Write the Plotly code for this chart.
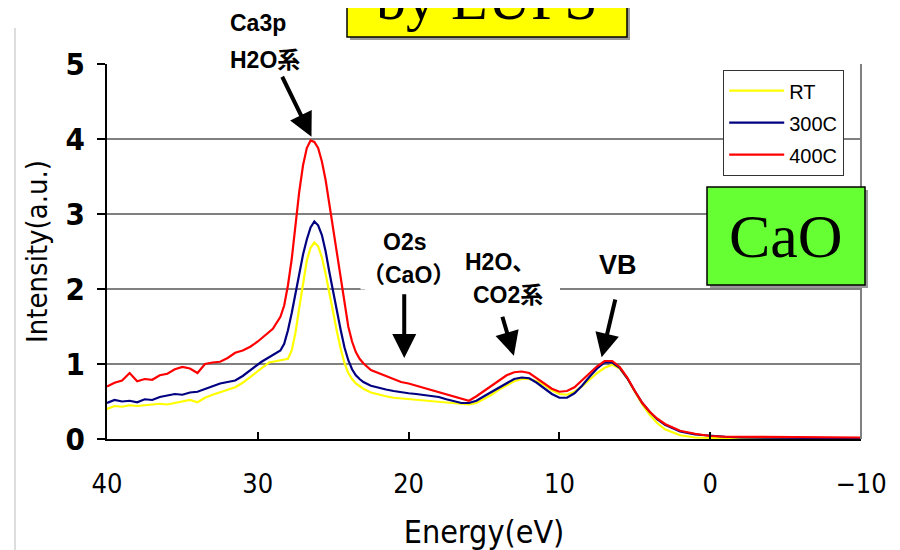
import plotly.graph_objects as go

# ---------------- data ----------------
energy = [40.0, 39.5, 39.0, 38.5, 38.0, 37.5, 37.0, 36.5, 36.0, 35.5,
          35.0, 34.5, 34.0, 33.5, 33.0, 32.5, 32.0, 31.5, 31.0, 30.5,
          30.0, 29.75, 29.5, 29.25, 29.0, 28.75, 28.5, 28.25, 28.0, 27.75,
          27.5, 27.25, 27.0, 26.75, 26.5, 26.25, 26.0, 25.75, 25.5, 25.25,
          25.0, 24.75, 24.5, 24.25, 24.0, 23.75, 23.5, 23.25, 23.0, 22.5,
          22.0, 21.5, 21.0, 20.5, 20.0, 19.5, 19.0, 18.5, 18.0, 17.5,
          17.0, 16.5, 16.0, 15.5, 15.0, 14.5, 14.0, 13.5, 13.0, 12.5,
          12.0, 11.5, 11.0, 10.5, 10.0, 9.5, 9.0, 8.5, 8.0, 7.5,
          7.0, 6.5, 6.0, 5.5, 5.0, 4.5, 4.0, 3.5, 3.0, 2.0,
          1.0, 0.0, -1.0, -2.0, -3.0, -4.0, -5.0, -6.0, -7.0, -8.0,
          -9.0, -10.0]

rt = [0.40, 0.44, 0.43, 0.45, 0.44, 0.45, 0.46, 0.47, 0.46, 0.48,
      0.50, 0.52, 0.49, 0.55, 0.59, 0.62, 0.65, 0.69, 0.75, 0.83,
      0.91, 0.95, 0.99, 1.02, 1.03, 1.04, 1.04, 1.05, 1.07, 1.18,
      1.42, 1.75, 2.10, 2.38, 2.55, 2.62, 2.57, 2.42, 2.20, 1.93,
      1.67, 1.43, 1.20, 1.01, 0.88, 0.80, 0.74, 0.70, 0.67, 0.62,
      0.59, 0.57, 0.55, 0.54, 0.53, 0.52, 0.51, 0.50, 0.49, 0.48,
      0.47, 0.46, 0.46, 0.48, 0.53, 0.59, 0.66, 0.72, 0.77, 0.80,
      0.80, 0.77, 0.72, 0.65, 0.60, 0.59, 0.63, 0.70, 0.79, 0.88,
      0.95, 0.99, 0.94, 0.81, 0.63, 0.46, 0.32, 0.21, 0.13, 0.05,
      0.02, 0.01, 0.01, 0.01, 0.01, 0.01, 0.01, 0.00, 0.01, 0.00,
      0.01, 0.00]

c300 = [0.48, 0.52, 0.50, 0.51, 0.49, 0.53, 0.52, 0.56, 0.58, 0.60,
        0.59, 0.62, 0.63, 0.67, 0.71, 0.74, 0.76, 0.78, 0.84, 0.92,
        1.00, 1.03, 1.06, 1.09, 1.12, 1.15, 1.18, 1.27, 1.45, 1.68,
        1.95, 2.22, 2.46, 2.66, 2.82, 2.90, 2.85, 2.72, 2.50, 2.22,
        1.95, 1.70, 1.45, 1.22, 1.05, 0.93, 0.85, 0.80, 0.76, 0.71,
        0.68, 0.66, 0.64, 0.62, 0.61, 0.60, 0.59, 0.57, 0.56, 0.53,
        0.50, 0.48, 0.48, 0.51, 0.57, 0.63, 0.69, 0.75, 0.80, 0.82,
        0.81, 0.75, 0.68, 0.60, 0.55, 0.55, 0.61, 0.71, 0.83, 0.94,
        1.02, 1.02, 0.95, 0.81, 0.64, 0.48, 0.36, 0.26, 0.19, 0.10,
        0.06, 0.04, 0.03, 0.02, 0.02, 0.02, 0.02, 0.02, 0.02, 0.01,
        0.02, 0.01]

c400 = [0.70, 0.75, 0.78, 0.88, 0.77, 0.80, 0.79, 0.85, 0.87, 0.93,
        0.96, 0.94, 0.88, 1.00, 1.02, 1.03, 1.08, 1.15, 1.18, 1.23,
        1.30, 1.34, 1.38, 1.42, 1.47, 1.55, 1.63, 1.78, 2.05, 2.40,
        2.85, 3.30, 3.65, 3.88, 3.98, 3.96, 3.88, 3.70, 3.45, 3.12,
        2.78, 2.45, 2.10, 1.78, 1.50, 1.30, 1.16, 1.07, 1.01, 0.92,
        0.88, 0.84, 0.79, 0.76, 0.74, 0.71, 0.68, 0.66, 0.63, 0.60,
        0.56, 0.54, 0.51, 0.57, 0.64, 0.72, 0.79, 0.85, 0.89, 0.90,
        0.88, 0.81, 0.74, 0.67, 0.63, 0.64, 0.69, 0.78, 0.88, 0.97,
        1.04, 1.04, 0.96, 0.82, 0.64, 0.48, 0.36, 0.27, 0.20, 0.11,
        0.07, 0.04, 0.03, 0.03, 0.02, 0.03, 0.02, 0.02, 0.02, 0.02,
        0.02, 0.02]

series_names = ["RT", "300C", "400C"]
x_ticks = [40, 30, 20, 10, 0, -10]
x_tick_text = ["40", "30", "20", "10", "0", "\u221210"]
y_ticks = [0, 1, 2, 3, 4, 5]

# ---------------- layout helpers ----------------
# target plot area in screen pixels; the page body adds an 8px offset
OFF = 8
L, R, T, B = 107, 861, 64, 439
def px(v):
    return (v - L) / (R - L)
def py(v):
    return (B - v) / (B - T)

SANS = "Liberation Sans, Arial, Noto Sans CJK JP, sans-serif"
COND = "DejaVu Sans Condensed, DejaVu Sans, sans-serif"
SERIF = "Liberation Serif, Times New Roman, serif"

fig = go.Figure()
colors = ["#FFFF00", "#000080", "#FF0000"]
for name, vals, col in zip(series_names, [rt, c300, c400], colors):
    fig.add_trace(go.Scatter(x=energy, y=vals, mode="lines", name=name,
                             legendgroup=name,
                             line=dict(color=col, width=2.2)))

fig.update_layout(
    width=900, height=550,
    margin=dict(l=L - OFF, r=900 - (R - OFF), t=T - OFF, b=550 - (B - OFF),
                autoexpand=False),
    paper_bgcolor="white", plot_bgcolor="white",
    showlegend=True,
    legend=dict(x=px(723), y=py(70), xanchor="left", yanchor="top",
                bgcolor="white", bordercolor="#333333", borderwidth=1.2,
                font=dict(family=SANS, size=20, color="black"),
                itemwidth=55, tracegroupgap=3, traceorder="grouped"),
    xaxis=dict(range=[40, -10], tickvals=x_ticks, ticktext=x_tick_text,
               showgrid=False, zeroline=False, automargin=False,
               showline=True, linecolor="black", linewidth=2,
               ticks="inside", ticklen=7, tickwidth=1.5, tickcolor="black",
               ticklabelstandoff=20,
               tickfont=dict(family=COND, size=27, color="black"),
               title=dict(text="Energy(eV)", standoff=22,
                          font=dict(family=COND, size=32, color="black"))),
    yaxis=dict(range=[0, 5], tickvals=y_ticks, automargin=False,
               showgrid=True, gridcolor="#808080", gridwidth=1.5,
               zeroline=False,
               showline=True, linecolor="black", linewidth=2,
               ticks="outside", ticklen=8, tickwidth=1.5, tickcolor="black",
               ticklabelstandoff=6,
               tickfont=dict(family=COND, size=31, color="black", weight="bold"),
               title=dict(text="Intensity(a.u.)", standoff=9,
                          font=dict(family=COND, size=29, color="black"))),
)

shapes = []
# right border of plot
shapes.append(dict(type="line", xref="paper", yref="paper", x0=1, x1=1,
                   y0=0, y1=1, line=dict(color="#808080", width=2)))
# faint slide edge on the left
shapes.append(dict(type="line", xref="paper", yref="paper", x0=px(15), x1=px(15),
                   y0=py(560), y1=py(28), line=dict(color="#dddddd", width=2)))
# white gap on gridline 2 behind labels
shapes.append(dict(type="rect", xref="paper", yref="paper",
                   x0=px(365), x1=px(560), y0=py(296), y1=py(283),
                   fillcolor="white", line=dict(width=0), layer="above"))
# yellow title box (shadow + box)
shapes.append(dict(type="rect", xref="paper", yref="paper",
                   x0=px(350), x1=px(630), y0=py(40), y1=py(-20),
                   fillcolor="#999999", line=dict(width=0), layer="above"))
shapes.append(dict(type="rect", xref="paper", yref="paper",
                   x0=px(347), x1=px(627), y0=py(37), y1=py(-20),
                   fillcolor="#FFFF00", line=dict(color="black", width=1.5),
                   layer="above"))
# green CaO box (shadow + box)
shapes.append(dict(type="rect", xref="paper", yref="paper",
                   x0=px(710), x1=px(868), y0=py(288), y1=py(190),
                   fillcolor="#999999", line=dict(width=0), layer="above"))
shapes.append(dict(type="rect", xref="paper", yref="paper",
                   x0=px(707), x1=px(865), y0=py(285), y1=py(187),
                   fillcolor="#66FF33", line=dict(color="black", width=1.5),
                   layer="above"))
fig.update_layout(shapes=shapes)

ann = []
ann.append(dict(text="by EUPS", xref="paper", yref="paper", x=px(487), y=py(34),
                xanchor="center", yanchor="bottom", showarrow=False,
                font=dict(family=SERIF, size=60, color="black")))
ann.append(dict(text="CaO", xref="paper", yref="paper", x=px(786), y=py(236),
                xanchor="center", yanchor="middle", showarrow=False,
                font=dict(family=SERIF, size=62, color="black")))

lab_font = dict(family=SANS, size=23, color="black", weight="bold")
labels = [
    ("Ca3p", 258, 23, lab_font),
    ("H2O系", 265, 60, lab_font),
    ("O2s", 404, 242, lab_font),
    ("（CaO）", 408, 275, lab_font),
    ("H2O、", 500, 262, lab_font),
    ("CO2系", 508, 295, lab_font),
    ("VB", 618, 265, dict(family=SANS, size=27, color="black", weight="bold")),
]
for t, xp, yp, f in labels:
    ann.append(dict(text=t, x=px(xp), y=py(yp), xref="paper", yref="paper",
                    xanchor="center", yanchor="middle",
                    showarrow=False, bgcolor="white", borderpad=1, font=f))

arrows = [
    (26.44, 4.03, 28.43, 4.85),
    (20.29, 1.08, 20.29, 1.95),
    (13.02, 1.11, 13.81, 1.65),
    (7.2, 1.09, 6.27, 1.88),
]
for xt, yt, xa, ya in arrows:
    ann.append(dict(text="", x=xt, y=yt, ax=xa, ay=ya, xref="x", yref="y",
                    axref="x", ayref="y", showarrow=True, arrowhead=2,
                    arrowsize=1.2, arrowwidth=4, arrowcolor="black"))
fig.update_layout(annotations=ann)

fig.write_html("out.html")
